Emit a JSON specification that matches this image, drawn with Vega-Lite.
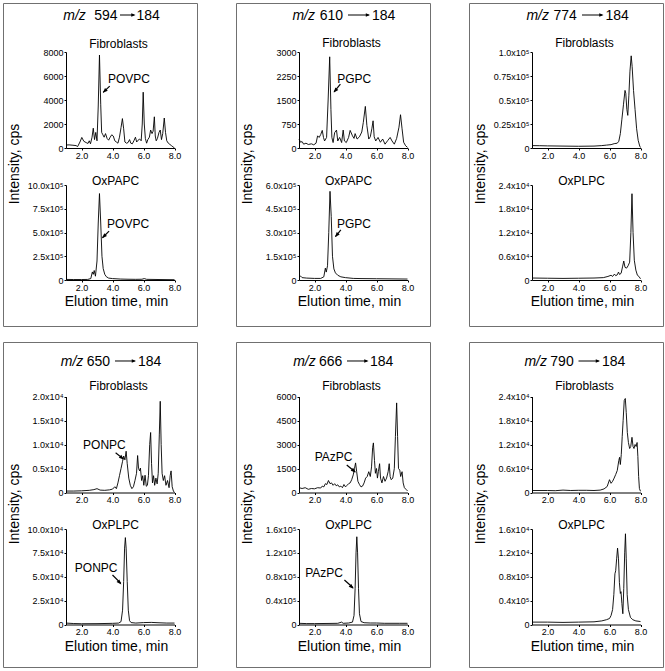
{
"$schema": "https://vega.github.io/schema/vega-lite/v6.json",
"padding": {"left": 2, "top": 2, "right": 0, "bottom": 0},
"config": {"font": "Liberation Sans", "view": {"stroke": "#707070", "strokeWidth": 1},
  "axis": {"domainColor": "black", "tickColor": "black", "labelColor": "black", "labelFontSize": 9, "tickSize": 2, "grid": false, "labelFont": "Liberation Sans", "labelPadding": 1, "domainWidth": 1, "tickWidth": 1}},
"datasets": {
"b1f": [{"t":1.0,"v":250},{"t":1.2,"v":260},{"t":1.45,"v":230},{"t":1.65,"v":200},{"t":1.75,"v":120},{"t":1.9,"v":500},{"t":2.02,"v":880},{"t":2.15,"v":560},{"t":2.3,"v":450},{"t":2.42,"v":380},{"t":2.5,"v":600},{"t":2.58,"v":350},{"t":2.68,"v":900},{"t":2.76,"v":1650},{"t":2.84,"v":700},{"t":2.92,"v":1300},{"t":3.0,"v":600},{"t":3.08,"v":3500},{"t":3.16,"v":7750},{"t":3.24,"v":3600},{"t":3.3,"v":1300},{"t":3.38,"v":1100},{"t":3.46,"v":900},{"t":3.55,"v":1200},{"t":3.65,"v":800},{"t":3.75,"v":650},{"t":3.85,"v":900},{"t":3.95,"v":1100},{"t":4.05,"v":1000},{"t":4.15,"v":600},{"t":4.25,"v":500},{"t":4.35,"v":400},{"t":4.45,"v":900},{"t":4.55,"v":1700},{"t":4.64,"v":2450},{"t":4.72,"v":1600},{"t":4.8,"v":500},{"t":4.9,"v":400},{"t":5.0,"v":450},{"t":5.1,"v":700},{"t":5.18,"v":400},{"t":5.28,"v":350},{"t":5.38,"v":600},{"t":5.48,"v":900},{"t":5.56,"v":500},{"t":5.65,"v":650},{"t":5.75,"v":750},{"t":5.85,"v":600},{"t":5.92,"v":2000},{"t":5.98,"v":4650},{"t":6.05,"v":2000},{"t":6.12,"v":800},{"t":6.2,"v":400},{"t":6.28,"v":700},{"t":6.38,"v":900},{"t":6.46,"v":1500},{"t":6.55,"v":1200},{"t":6.62,"v":1400},{"t":6.7,"v":2600},{"t":6.76,"v":1000},{"t":6.82,"v":600},{"t":6.9,"v":800},{"t":7.0,"v":1300},{"t":7.08,"v":1500},{"t":7.16,"v":700},{"t":7.24,"v":1200},{"t":7.34,"v":2500},{"t":7.42,"v":1300},{"t":7.5,"v":600},{"t":7.6,"v":400},{"t":7.7,"v":300},{"t":7.8,"v":200},{"t":7.9,"v":100},{"t":8.0,"v":0}],
"b1o": [{"t":1.0,"v":6000},{"t":1.5,"v":5000},{"t":2.0,"v":5000},{"t":2.4,"v":6000},{"t":2.6,"v":15000},{"t":2.7,"v":85000},{"t":2.76,"v":60000},{"t":2.82,"v":100000},{"t":2.9,"v":40000},{"t":3.0,"v":200000},{"t":3.08,"v":600000},{"t":3.16,"v":910000},{"t":3.24,"v":600000},{"t":3.32,"v":250000},{"t":3.4,"v":120000},{"t":3.5,"v":60000},{"t":3.6,"v":35000},{"t":3.75,"v":20000},{"t":4.0,"v":15000},{"t":4.5,"v":10000},{"t":5.0,"v":8000},{"t":5.5,"v":7000},{"t":5.9,"v":8000},{"t":6.05,"v":15000},{"t":6.2,"v":7000},{"t":7.0,"v":5000},{"t":8.0,"v":3000}],
"b2f": [{"t":1.0,"v":280},{"t":1.1,"v":180},{"t":1.2,"v":200},{"t":1.3,"v":120},{"t":1.45,"v":150},{"t":1.6,"v":110},{"t":1.8,"v":130},{"t":1.95,"v":100},{"t":2.1,"v":150},{"t":2.2,"v":380},{"t":2.3,"v":330},{"t":2.4,"v":420},{"t":2.5,"v":550},{"t":2.58,"v":330},{"t":2.65,"v":220},{"t":2.78,"v":330},{"t":2.88,"v":1500},{"t":2.98,"v":2850},{"t":3.06,"v":1200},{"t":3.12,"v":330},{"t":3.2,"v":170},{"t":3.3,"v":480},{"t":3.42,"v":560},{"t":3.5,"v":220},{"t":3.62,"v":330},{"t":3.75,"v":170},{"t":3.85,"v":560},{"t":3.93,"v":220},{"t":4.05,"v":170},{"t":4.2,"v":330},{"t":4.3,"v":550},{"t":4.45,"v":380},{"t":4.55,"v":300},{"t":4.62,"v":450},{"t":4.75,"v":280},{"t":4.9,"v":350},{"t":5.05,"v":500},{"t":5.15,"v":800},{"t":5.28,"v":1300},{"t":5.38,"v":700},{"t":5.5,"v":280},{"t":5.6,"v":350},{"t":5.7,"v":600},{"t":5.78,"v":850},{"t":5.85,"v":350},{"t":5.95,"v":220},{"t":6.1,"v":330},{"t":6.25,"v":180},{"t":6.4,"v":280},{"t":6.55,"v":120},{"t":6.72,"v":230},{"t":6.88,"v":330},{"t":7.0,"v":220},{"t":7.15,"v":120},{"t":7.3,"v":300},{"t":7.45,"v":650},{"t":7.55,"v":1040},{"t":7.65,"v":600},{"t":7.75,"v":180},{"t":7.88,"v":70},{"t":8.0,"v":20}],
"b2o": [{"t":1.0,"v":22000},{"t":1.1,"v":25000},{"t":1.2,"v":15000},{"t":1.5,"v":12000},{"t":2.0,"v":10000},{"t":2.4,"v":10000},{"t":2.6,"v":20000},{"t":2.7,"v":75000},{"t":2.76,"v":50000},{"t":2.84,"v":90000},{"t":2.92,"v":300000},{"t":3.0,"v":560000},{"t":3.08,"v":400000},{"t":3.16,"v":150000},{"t":3.25,"v":70000},{"t":3.35,"v":45000},{"t":3.5,"v":30000},{"t":3.7,"v":20000},{"t":4.0,"v":15000},{"t":4.5,"v":10000},{"t":5.0,"v":9000},{"t":6.0,"v":8000},{"t":7.0,"v":7000},{"t":8.0,"v":6000}],
"b3f": [{"t":1.0,"v":2500},{"t":1.5,"v":2400},{"t":2.0,"v":2200},{"t":3.0,"v":2000},{"t":4.0,"v":1800},{"t":5.0,"v":2000},{"t":5.5,"v":2500},{"t":5.8,"v":3000},{"t":6.1,"v":3500},{"t":6.3,"v":4500},{"t":6.5,"v":5000},{"t":6.6,"v":7000},{"t":6.7,"v":15000},{"t":6.8,"v":30000},{"t":6.9,"v":45000},{"t":7.0,"v":60000},{"t":7.05,"v":57000},{"t":7.12,"v":40000},{"t":7.18,"v":34000},{"t":7.25,"v":55000},{"t":7.32,"v":80000},{"t":7.4,"v":96000},{"t":7.46,"v":85000},{"t":7.55,"v":60000},{"t":7.65,"v":40000},{"t":7.75,"v":20000},{"t":7.85,"v":8000},{"t":7.95,"v":2000},{"t":8.0,"v":500}],
"b3o": [{"t":1.0,"v":500},{"t":2.0,"v":450},{"t":3.0,"v":400},{"t":4.0,"v":450},{"t":5.0,"v":500},{"t":5.6,"v":600},{"t":5.9,"v":900},{"t":6.1,"v":1200},{"t":6.2,"v":900},{"t":6.32,"v":1500},{"t":6.4,"v":1100},{"t":6.5,"v":1300},{"t":6.58,"v":2000},{"t":6.65,"v":1400},{"t":6.75,"v":1700},{"t":6.85,"v":3500},{"t":6.92,"v":4800},{"t":7.0,"v":3200},{"t":7.1,"v":3000},{"t":7.2,"v":3600},{"t":7.3,"v":4500},{"t":7.38,"v":12000},{"t":7.45,"v":21800},{"t":7.52,"v":12000},{"t":7.6,"v":5000},{"t":7.7,"v":2500},{"t":7.8,"v":1200},{"t":7.9,"v":900},{"t":8.0,"v":300}],
"b4f": [{"t":1.0,"v":300},{"t":1.5,"v":300},{"t":2.0,"v":350},{"t":2.5,"v":450},{"t":2.8,"v":600},{"t":3.0,"v":800},{"t":3.2,"v":500},{"t":3.5,"v":450},{"t":3.8,"v":550},{"t":4.0,"v":700},{"t":4.15,"v":1200},{"t":4.25,"v":800},{"t":4.35,"v":2000},{"t":4.45,"v":3500},{"t":4.55,"v":5000},{"t":4.65,"v":6500},{"t":4.72,"v":7600},{"t":4.8,"v":6800},{"t":4.88,"v":8600},{"t":4.95,"v":6000},{"t":5.05,"v":3000},{"t":5.15,"v":1500},{"t":5.25,"v":800},{"t":5.35,"v":1200},{"t":5.45,"v":2500},{"t":5.55,"v":4000},{"t":5.62,"v":7700},{"t":5.68,"v":5000},{"t":5.75,"v":4500},{"t":5.8,"v":5100},{"t":5.88,"v":2500},{"t":5.95,"v":3500},{"t":6.02,"v":1500},{"t":6.1,"v":3600},{"t":6.18,"v":1300},{"t":6.25,"v":1500},{"t":6.32,"v":3500},{"t":6.4,"v":10000},{"t":6.46,"v":12500},{"t":6.52,"v":6000},{"t":6.58,"v":2000},{"t":6.65,"v":3500},{"t":6.72,"v":1500},{"t":6.8,"v":3000},{"t":6.88,"v":1800},{"t":6.95,"v":4000},{"t":7.02,"v":12000},{"t":7.08,"v":19000},{"t":7.14,"v":10000},{"t":7.2,"v":4000},{"t":7.28,"v":2500},{"t":7.36,"v":3500},{"t":7.45,"v":1500},{"t":7.55,"v":2500},{"t":7.65,"v":1000},{"t":7.72,"v":3500},{"t":7.78,"v":4500},{"t":7.85,"v":1200},{"t":7.93,"v":300},{"t":8.0,"v":0}],
"b4o": [{"t":1.0,"v":1500},{"t":1.5,"v":1000},{"t":2.0,"v":800},{"t":3.0,"v":900},{"t":4.0,"v":1200},{"t":4.4,"v":1500},{"t":4.55,"v":3000},{"t":4.65,"v":15000},{"t":4.72,"v":45000},{"t":4.78,"v":80000},{"t":4.83,"v":91000},{"t":4.88,"v":80000},{"t":4.95,"v":45000},{"t":5.02,"v":15000},{"t":5.1,"v":4000},{"t":5.2,"v":2000},{"t":5.5,"v":1500},{"t":6.0,"v":2000},{"t":6.5,"v":2200},{"t":7.0,"v":1800},{"t":7.5,"v":1500},{"t":8.0,"v":1500}],
"b5f": [{"t":1.0,"v":300},{"t":1.2,"v":250},{"t":1.4,"v":300},{"t":1.6,"v":200},{"t":1.8,"v":250},{"t":2.0,"v":230},{"t":2.2,"v":300},{"t":2.4,"v":280},{"t":2.5,"v":400},{"t":2.6,"v":350},{"t":2.7,"v":550},{"t":2.8,"v":500},{"t":2.9,"v":750},{"t":3.0,"v":550},{"t":3.1,"v":600},{"t":3.2,"v":450},{"t":3.3,"v":550},{"t":3.4,"v":420},{"t":3.5,"v":480},{"t":3.6,"v":350},{"t":3.7,"v":400},{"t":3.8,"v":300},{"t":3.9,"v":500},{"t":4.0,"v":350},{"t":4.1,"v":450},{"t":4.2,"v":550},{"t":4.3,"v":600},{"t":4.4,"v":800},{"t":4.5,"v":1100},{"t":4.58,"v":1500},{"t":4.65,"v":1850},{"t":4.72,"v":1300},{"t":4.8,"v":700},{"t":4.9,"v":500},{"t":5.0,"v":350},{"t":5.1,"v":400},{"t":5.2,"v":600},{"t":5.3,"v":900},{"t":5.4,"v":1000},{"t":5.5,"v":1300},{"t":5.6,"v":1000},{"t":5.68,"v":1600},{"t":5.75,"v":2800},{"t":5.8,"v":3100},{"t":5.87,"v":2000},{"t":5.93,"v":1200},{"t":6.0,"v":1500},{"t":6.06,"v":900},{"t":6.12,"v":1300},{"t":6.2,"v":1800},{"t":6.26,"v":900},{"t":6.35,"v":600},{"t":6.45,"v":1000},{"t":6.55,"v":700},{"t":6.65,"v":900},{"t":6.75,"v":1300},{"t":6.82,"v":1800},{"t":6.88,"v":1000},{"t":6.95,"v":800},{"t":7.05,"v":900},{"t":7.15,"v":1500},{"t":7.22,"v":3500},{"t":7.3,"v":5600},{"t":7.36,"v":3500},{"t":7.42,"v":1500},{"t":7.5,"v":1400},{"t":7.56,"v":1000},{"t":7.65,"v":1300},{"t":7.72,"v":600},{"t":7.8,"v":300},{"t":7.9,"v":200},{"t":8.0,"v":100}],
"b5o": [{"t":1.0,"v":2000},{"t":1.5,"v":1500},{"t":2.0,"v":1500},{"t":3.0,"v":1800},{"t":3.5,"v":2000},{"t":3.75,"v":4000},{"t":3.85,"v":2000},{"t":4.2,"v":2500},{"t":4.45,"v":4000},{"t":4.55,"v":15000},{"t":4.62,"v":60000},{"t":4.68,"v":120000},{"t":4.73,"v":147000},{"t":4.78,"v":120000},{"t":4.84,"v":60000},{"t":4.9,"v":18000},{"t":5.0,"v":5000},{"t":5.2,"v":3000},{"t":5.6,"v":2500},{"t":6.0,"v":2500},{"t":6.5,"v":2000},{"t":7.0,"v":2000},{"t":7.5,"v":2000},{"t":8.0,"v":2000}],
"b6f": [{"t":1.0,"v":500},{"t":2.0,"v":500},{"t":2.5,"v":450},{"t":3.0,"v":600},{"t":3.5,"v":500},{"t":4.0,"v":550},{"t":4.5,"v":550},{"t":5.0,"v":500},{"t":5.4,"v":600},{"t":5.65,"v":900},{"t":5.85,"v":1500},{"t":6.0,"v":3200},{"t":6.1,"v":2300},{"t":6.2,"v":2800},{"t":6.3,"v":3600},{"t":6.4,"v":4500},{"t":6.5,"v":5500},{"t":6.6,"v":8000},{"t":6.65,"v":8800},{"t":6.7,"v":7000},{"t":6.76,"v":9500},{"t":6.82,"v":14000},{"t":6.88,"v":18000},{"t":6.95,"v":23000},{"t":7.02,"v":23500},{"t":7.08,"v":20000},{"t":7.15,"v":15000},{"t":7.22,"v":12500},{"t":7.3,"v":11000},{"t":7.37,"v":11500},{"t":7.45,"v":13800},{"t":7.52,"v":11500},{"t":7.58,"v":11000},{"t":7.65,"v":12000},{"t":7.72,"v":11500},{"t":7.78,"v":12500},{"t":7.83,"v":9000},{"t":7.88,"v":4000},{"t":7.93,"v":1000},{"t":8.0,"v":300}],
"b6o": [{"t":1.0,"v":400},{"t":2.0,"v":400},{"t":3.0,"v":350},{"t":4.0,"v":400},{"t":5.0,"v":450},{"t":5.5,"v":600},{"t":5.8,"v":800},{"t":6.0,"v":1000},{"t":6.1,"v":1500},{"t":6.2,"v":2500},{"t":6.28,"v":5000},{"t":6.35,"v":8500},{"t":6.4,"v":9000},{"t":6.46,"v":11000},{"t":6.52,"v":12800},{"t":6.58,"v":11000},{"t":6.64,"v":7000},{"t":6.7,"v":5200},{"t":6.74,"v":5500},{"t":6.8,"v":3500},{"t":6.86,"v":1800},{"t":6.92,"v":6000},{"t":6.98,"v":12000},{"t":7.03,"v":15200},{"t":7.08,"v":11000},{"t":7.14,"v":5000},{"t":7.22,"v":2500},{"t":7.35,"v":1200},{"t":7.5,"v":800},{"t":7.7,"v":600},{"t":8.0,"v":500}]
},
"spacing": 14,
"vconcat": [
{"spacing": 39, "bounds": "flush", "hconcat": [
 {"width": 194, "height": 323, "resolve": {"scale": {"x": "independent", "y": "independent"}},
  "layer": [
   {"data": {"name": "b1f"}, "layer": [
     {"mark": {"type": "line", "color": "black", "strokeWidth": 0.9},
      "encoding": {"x": {"field": "t", "type": "quantitative", "scale": {"domain": [1, 8], "range": [63, 171.5], "nice": false, "zero": false}, "axis": {"orient": "bottom", "offset": -178, "title": null, "values": [2,3,4,5,6,7,8], "labelExpr": "datum.value%2==0?format(datum.value,'.1f'):''", "labelOverlap": false, "labelFlush": false, "labelBound": false}},
                   "y": {"field": "v", "type": "quantitative", "scale": {"domain": [0, 8000], "range": [145, 49], "nice": false, "zero": false}, "axis": {"orient": "left", "offset": -63, "title": null, "values": [0,2000,4000,6000,8000], "format": "d", "labelOverlap": false, "labelBound": false, "labelFlush": false}}}},
     {"data": {"values": [{}]}, "mark": {"type": "text", "fontSize": 14, "fontStyle": "italic", "align": "right", "baseline": "alphabetic", "color": "black"}, "encoding": {"x": {"datum": 2.277, "type": "quantitative"}, "y": {"datum": 10667, "type": "quantitative"}, "text": {"value": "m/z"}}},
     {"data": {"values": [{}]}, "mark": {"type": "text", "fontSize": 14, "align": "left", "baseline": "alphabetic", "color": "black"}, "encoding": {"x": {"datum": 2.819, "type": "quantitative"}, "y": {"datum": 10667, "type": "quantitative"}, "text": {"value": "594"}}},
     {"data": {"values": [{}]}, "mark": {"type": "rule", "color": "black", "strokeWidth": 1}, "encoding": {"x": {"datum": 4.484, "type": "quantitative"}, "x2": {"datum": 5.4}, "y": {"datum": 11083, "type": "quantitative"}}},
     {"data": {"values": [{}]}, "mark": {"type": "point", "shape": "M0,0L-0.7,1.8L0.7,1.8Z", "filled": true, "color": "black", "opacity": 1, "size": 22, "angle": 90}, "encoding": {"x": {"datum": 5.484, "type": "quantitative"}, "y": {"datum": 11083, "type": "quantitative"}}},
     {"data": {"values": [{}]}, "mark": {"type": "text", "fontSize": 14, "align": "left", "baseline": "alphabetic", "color": "black"}, "encoding": {"x": {"datum": 5.548, "type": "quantitative"}, "y": {"datum": 10667, "type": "quantitative"}, "text": {"value": "184"}}},
     {"data": {"values": [{}]}, "mark": {"type": "text", "fontSize": 12, "align": "center", "baseline": "alphabetic", "color": "black"}, "encoding": {"x": {"datum": 4.387, "type": "quantitative"}, "y": {"datum": 8375, "type": "quantitative"}, "text": {"value": "Fibroblasts"}}},
     {"data": {"values": [{}]}, "mark": {"type": "text", "fontSize": 12, "align": "left", "baseline": "alphabetic", "color": "black"}, "encoding": {"x": {"datum": 3.71, "type": "quantitative"}, "y": {"datum": 5435, "type": "quantitative"}, "text": {"value": "POVPC"}}},
     {"data": {"values": [{}]}, "mark": {"type": "rule", "color": "black", "strokeWidth": 1.2}, "encoding": {"x": {"datum": 3.82, "type": "quantitative"}, "y": {"datum": 5156, "type": "quantitative"}, "x2": {"datum": 3.4}, "y2": {"datum": 4630}}},
     {"data": {"values": [{}]}, "mark": {"type": "point", "shape": "M0,0L-0.7,1.8L0.7,1.8Z", "filled": true, "color": "black", "opacity": 1, "size": 30, "angle": 225}, "encoding": {"x": {"datum": 3.38, "type": "quantitative"}, "y": {"datum": 4599, "type": "quantitative"}}}
   ]},
   {"data": {"name": "b1o"}, "layer": [
     {"mark": {"type": "line", "color": "black", "strokeWidth": 0.9},
      "encoding": {"x": {"field": "t", "type": "quantitative", "scale": {"domain": [1, 8], "range": [63, 171.5], "nice": false, "zero": false}, "axis": {"orient": "bottom", "offset": -46, "title": null, "values": [2,3,4,5,6,7,8], "labelExpr": "datum.value%2==0?format(datum.value,'.1f'):''", "labelOverlap": false, "labelFlush": false, "labelBound": false}},
                   "y": {"field": "v", "type": "quantitative", "scale": {"domain": [0, 1000000], "range": [277, 182], "nice": false, "zero": false}, "axis": {"orient": "left", "offset": -63, "title": null, "values": [0,250000,500000,750000,1000000], "labelExpr": "datum.value==0?'0':format(datum.value/1e5,'.1f')+'x10⁵'", "labelOverlap": false, "labelBound": false, "labelFlush": false}}}},
     {"data": {"values": [{}]}, "mark": {"type": "text", "fontSize": 12, "align": "center", "baseline": "alphabetic", "color": "black"}, "encoding": {"x": {"datum": 4.194, "type": "quantitative"}, "y": {"datum": 1005260, "type": "quantitative"}, "text": {"value": "OxPAPC"}}},
     {"data": {"values": [{}]}, "mark": {"type": "text", "fontSize": 12, "align": "left", "baseline": "alphabetic", "color": "black"}, "encoding": {"x": {"datum": 3.65, "type": "quantitative"}, "y": {"datum": 545000, "type": "quantitative"}, "text": {"value": "POVPC"}}},
     {"data": {"values": [{}]}, "mark": {"type": "rule", "color": "black", "strokeWidth": 1.2}, "encoding": {"x": {"datum": 3.78, "type": "quantitative"}, "y": {"datum": 515000, "type": "quantitative"}, "x2": {"datum": 3.35}, "y2": {"datum": 445000}}},
     {"data": {"values": [{}]}, "mark": {"type": "point", "shape": "M0,0L-0.7,1.8L0.7,1.8Z", "filled": true, "color": "black", "opacity": 1, "size": 30, "angle": 225}, "encoding": {"x": {"datum": 3.33, "type": "quantitative"}, "y": {"datum": 440000, "type": "quantitative"}}},
     {"data": {"values": [{}]}, "mark": {"type": "text", "fontSize": 14, "align": "center", "baseline": "middle", "angle": 270, "color": "black"}, "encoding": {"x": {"datum": -2.29, "type": "quantitative"}, "y": {"datum": 1221000, "type": "quantitative"}, "text": {"value": "Intensity, cps"}}},
     {"data": {"values": [{}]}, "mark": {"type": "text", "fontSize": 14, "align": "center", "baseline": "alphabetic", "color": "black"}, "encoding": {"x": {"datum": 4.258, "type": "quantitative"}, "y": {"datum": -273700, "type": "quantitative"}, "text": {"value": "Elution time, min"}}}
   ]}
  ]},
 {"width": 194, "height": 323, "resolve": {"scale": {"x": "independent", "y": "independent"}},
  "layer": [
   {"data": {"name": "b2f"}, "layer": [
     {"mark": {"type": "line", "color": "black", "strokeWidth": 0.9},
      "encoding": {"x": {"field": "t", "type": "quantitative", "scale": {"domain": [1, 8], "range": [63, 171.5], "nice": false, "zero": false}, "axis": {"orient": "bottom", "offset": -178, "title": null, "values": [2,3,4,5,6,7,8], "labelExpr": "datum.value%2==0?format(datum.value,'.1f'):''", "labelOverlap": false, "labelFlush": false, "labelBound": false}},
                   "y": {"field": "v", "type": "quantitative", "scale": {"domain": [0, 3000], "range": [145, 49], "nice": false, "zero": false}, "axis": {"orient": "left", "offset": -63, "title": null, "values": [0,750,1500,2250,3000], "format": "d", "labelOverlap": false, "labelBound": false, "labelFlush": false}}}},
     {"data": {"values": [{}]}, "mark": {"type": "text", "fontSize": 14, "fontStyle": "italic", "align": "right", "baseline": "alphabetic", "color": "black"}, "encoding": {"x": {"datum": 2.032, "type": "quantitative"}, "y": {"datum": 4000, "type": "quantitative"}, "text": {"value": "m/z"}}},
     {"data": {"values": [{}]}, "mark": {"type": "text", "fontSize": 14, "align": "left", "baseline": "alphabetic", "color": "black"}, "encoding": {"x": {"datum": 2.335, "type": "quantitative"}, "y": {"datum": 4000, "type": "quantitative"}, "text": {"value": "610"}}},
     {"data": {"values": [{}]}, "mark": {"type": "rule", "color": "black", "strokeWidth": 1}, "encoding": {"x": {"datum": 4.161, "type": "quantitative"}, "x2": {"datum": 5.5}, "y": {"datum": 4156, "type": "quantitative"}}},
     {"data": {"values": [{}]}, "mark": {"type": "point", "shape": "M0,0L-0.7,1.8L0.7,1.8Z", "filled": true, "color": "black", "opacity": 1, "size": 22, "angle": 90}, "encoding": {"x": {"datum": 5.581, "type": "quantitative"}, "y": {"datum": 4156, "type": "quantitative"}}},
     {"data": {"values": [{}]}, "mark": {"type": "text", "fontSize": 14, "align": "left", "baseline": "alphabetic", "color": "black"}, "encoding": {"x": {"datum": 5.71, "type": "quantitative"}, "y": {"datum": 4000, "type": "quantitative"}, "text": {"value": "184"}}},
     {"data": {"values": [{}]}, "mark": {"type": "text", "fontSize": 12, "align": "center", "baseline": "alphabetic", "color": "black"}, "encoding": {"x": {"datum": 4.387, "type": "quantitative"}, "y": {"datum": 3141, "type": "quantitative"}, "text": {"value": "Fibroblasts"}}},
     {"data": {"values": [{}]}, "mark": {"type": "text", "fontSize": 12, "align": "left", "baseline": "alphabetic", "color": "black"}, "encoding": {"x": {"datum": 3.46, "type": "quantitative"}, "y": {"datum": 2045, "type": "quantitative"}, "text": {"value": "PGPC"}}},
     {"data": {"values": [{}]}, "mark": {"type": "rule", "color": "black", "strokeWidth": 1.2}, "encoding": {"x": {"datum": 3.67, "type": "quantitative"}, "y": {"datum": 1993, "type": "quantitative"}, "x2": {"datum": 3.26}, "y2": {"datum": 1755}}},
     {"data": {"values": [{}]}, "mark": {"type": "point", "shape": "M0,0L-0.7,1.8L0.7,1.8Z", "filled": true, "color": "black", "opacity": 1, "size": 30, "angle": 219}, "encoding": {"x": {"datum": 3.24, "type": "quantitative"}, "y": {"datum": 1733, "type": "quantitative"}}}
   ]},
   {"data": {"name": "b2o"}, "layer": [
     {"mark": {"type": "line", "color": "black", "strokeWidth": 0.9},
      "encoding": {"x": {"field": "t", "type": "quantitative", "scale": {"domain": [1, 8], "range": [63, 171.5], "nice": false, "zero": false}, "axis": {"orient": "bottom", "offset": -46, "title": null, "values": [2,3,4,5,6,7,8], "labelExpr": "datum.value%2==0?format(datum.value,'.1f'):''", "labelOverlap": false, "labelFlush": false, "labelBound": false}},
                   "y": {"field": "v", "type": "quantitative", "scale": {"domain": [0, 600000], "range": [277, 182], "nice": false, "zero": false}, "axis": {"orient": "left", "offset": -63, "title": null, "values": [0,150000,300000,450000,600000], "labelExpr": "datum.value==0?'0':format(datum.value/1e5,'.1f')+'x10⁵'", "labelOverlap": false, "labelBound": false, "labelFlush": false}}}},
     {"data": {"values": [{}]}, "mark": {"type": "text", "fontSize": 12, "align": "center", "baseline": "alphabetic", "color": "black"}, "encoding": {"x": {"datum": 4.194, "type": "quantitative"}, "y": {"datum": 603156, "type": "quantitative"}, "text": {"value": "OxPAPC"}}},
     {"data": {"values": [{}]}, "mark": {"type": "text", "fontSize": 12, "align": "left", "baseline": "alphabetic", "color": "black"}, "encoding": {"x": {"datum": 3.45, "type": "quantitative"}, "y": {"datum": 331000, "type": "quantitative"}, "text": {"value": "PGPC"}}},
     {"data": {"values": [{}]}, "mark": {"type": "rule", "color": "black", "strokeWidth": 1.2}, "encoding": {"x": {"datum": 3.7, "type": "quantitative"}, "y": {"datum": 316500, "type": "quantitative"}, "x2": {"datum": 3.35}, "y2": {"datum": 274000}}},
     {"data": {"values": [{}]}, "mark": {"type": "point", "shape": "M0,0L-0.7,1.8L0.7,1.8Z", "filled": true, "color": "black", "opacity": 1, "size": 30, "angle": 219}, "encoding": {"x": {"datum": 3.33, "type": "quantitative"}, "y": {"datum": 271000, "type": "quantitative"}}},
     {"data": {"values": [{}]}, "mark": {"type": "text", "fontSize": 14, "align": "center", "baseline": "middle", "angle": 270, "color": "black"}, "encoding": {"x": {"datum": -2.29, "type": "quantitative"}, "y": {"datum": 732600, "type": "quantitative"}, "text": {"value": "Intensity, cps"}}},
     {"data": {"values": [{}]}, "mark": {"type": "text", "fontSize": 14, "align": "center", "baseline": "alphabetic", "color": "black"}, "encoding": {"x": {"datum": 4.258, "type": "quantitative"}, "y": {"datum": -164220, "type": "quantitative"}, "text": {"value": "Elution time, min"}}}
   ]}
  ]},
 {"width": 194, "height": 323, "resolve": {"scale": {"x": "independent", "y": "independent"}},
  "layer": [
   {"data": {"name": "b3f"}, "layer": [
     {"mark": {"type": "line", "color": "black", "strokeWidth": 0.9},
      "encoding": {"x": {"field": "t", "type": "quantitative", "scale": {"domain": [1, 8], "range": [63, 171.5], "nice": false, "zero": false}, "axis": {"orient": "bottom", "offset": -178, "title": null, "values": [2,3,4,5,6,7,8], "labelExpr": "datum.value%2==0?format(datum.value,'.1f'):''", "labelOverlap": false, "labelFlush": false, "labelBound": false}},
                   "y": {"field": "v", "type": "quantitative", "scale": {"domain": [0, 100000], "range": [145, 49], "nice": false, "zero": false}, "axis": {"orient": "left", "offset": -63, "title": null, "values": [0,25000,50000,75000,100000], "labelExpr": "datum.value==0?'0':datum.value==25000?'0.25x10⁵':datum.value==50000?'0.5x10⁵':datum.value==75000?'0.75x10⁵':'1.0x10⁵'", "labelOverlap": false, "labelBound": false, "labelFlush": false}}}},
     {"data": {"values": [{}]}, "mark": {"type": "text", "fontSize": 14, "fontStyle": "italic", "align": "right", "baseline": "alphabetic", "color": "black"}, "encoding": {"x": {"datum": 2.097, "type": "quantitative"}, "y": {"datum": 133333, "type": "quantitative"}, "text": {"value": "m/z"}}},
     {"data": {"values": [{}]}, "mark": {"type": "text", "fontSize": 14, "align": "left", "baseline": "alphabetic", "color": "black"}, "encoding": {"x": {"datum": 2.387, "type": "quantitative"}, "y": {"datum": 133333, "type": "quantitative"}, "text": {"value": "774"}}},
     {"data": {"values": [{}]}, "mark": {"type": "rule", "color": "black", "strokeWidth": 1}, "encoding": {"x": {"datum": 4.226, "type": "quantitative"}, "x2": {"datum": 5.53}, "y": {"datum": 138540, "type": "quantitative"}}},
     {"data": {"values": [{}]}, "mark": {"type": "point", "shape": "M0,0L-0.7,1.8L0.7,1.8Z", "filled": true, "color": "black", "opacity": 1, "size": 22, "angle": 90}, "encoding": {"x": {"datum": 5.613, "type": "quantitative"}, "y": {"datum": 138540, "type": "quantitative"}}},
     {"data": {"values": [{}]}, "mark": {"type": "text", "fontSize": 14, "align": "left", "baseline": "alphabetic", "color": "black"}, "encoding": {"x": {"datum": 5.742, "type": "quantitative"}, "y": {"datum": 133333, "type": "quantitative"}, "text": {"value": "184"}}},
     {"data": {"values": [{}]}, "mark": {"type": "text", "fontSize": 12, "align": "center", "baseline": "alphabetic", "color": "black"}, "encoding": {"x": {"datum": 4.387, "type": "quantitative"}, "y": {"datum": 104690, "type": "quantitative"}, "text": {"value": "Fibroblasts"}}}
   ]},
   {"data": {"name": "b3o"}, "layer": [
     {"mark": {"type": "line", "color": "black", "strokeWidth": 0.9},
      "encoding": {"x": {"field": "t", "type": "quantitative", "scale": {"domain": [1, 8], "range": [63, 171.5], "nice": false, "zero": false}, "axis": {"orient": "bottom", "offset": -46, "title": null, "values": [2,3,4,5,6,7,8], "labelExpr": "datum.value%2==0?format(datum.value,'.1f'):''", "labelOverlap": false, "labelFlush": false, "labelBound": false}},
                   "y": {"field": "v", "type": "quantitative", "scale": {"domain": [0, 24000], "range": [277, 182], "nice": false, "zero": false}, "axis": {"orient": "left", "offset": -63, "title": null, "values": [0,6000,12000,18000,24000], "labelExpr": "datum.value==0?'0':format(datum.value/1e4,'.1f')+'x10⁴'", "labelOverlap": false, "labelBound": false, "labelFlush": false}}}},
     {"data": {"values": [{}]}, "mark": {"type": "text", "fontSize": 12, "align": "center", "baseline": "alphabetic", "color": "black"}, "encoding": {"x": {"datum": 4.194, "type": "quantitative"}, "y": {"datum": 24126, "type": "quantitative"}, "text": {"value": "OxPLPC"}}},
     {"data": {"values": [{}]}, "mark": {"type": "text", "fontSize": 14, "align": "center", "baseline": "middle", "angle": 270, "color": "black"}, "encoding": {"x": {"datum": -2.29, "type": "quantitative"}, "y": {"datum": 29304, "type": "quantitative"}, "text": {"value": "Intensity, cps"}}},
     {"data": {"values": [{}]}, "mark": {"type": "text", "fontSize": 14, "align": "center", "baseline": "alphabetic", "color": "black"}, "encoding": {"x": {"datum": 4.258, "type": "quantitative"}, "y": {"datum": -6569, "type": "quantitative"}, "text": {"value": "Elution time, min"}}}
   ]}
  ]}
]},
{"spacing": 39, "bounds": "flush", "hconcat": [
 {"width": 194, "height": 325, "resolve": {"scale": {"x": "independent", "y": "independent"}},
  "layer": [
   {"data": {"name": "b4f"}, "layer": [
     {"mark": {"type": "line", "color": "black", "strokeWidth": 0.9},
      "encoding": {"x": {"field": "t", "type": "quantitative", "scale": {"domain": [1, 8], "range": [63, 171.5], "nice": false, "zero": false}, "axis": {"orient": "bottom", "offset": -174.5, "title": null, "values": [2,3,4,5,6,7,8], "labelExpr": "datum.value%2==0?format(datum.value,'.1f'):''", "labelOverlap": false, "labelFlush": false, "labelBound": false}},
                   "y": {"field": "v", "type": "quantitative", "scale": {"domain": [0, 20000], "range": [150.5, 54.5], "nice": false, "zero": false}, "axis": {"orient": "left", "offset": -63, "title": null, "values": [0,5000,10000,15000,20000], "labelExpr": "datum.value==0?'0':format(datum.value/1e4,'.1f')+'x10⁴'", "labelOverlap": false, "labelBound": false, "labelFlush": false}}}},
     {"data": {"values": [{}]}, "mark": {"type": "text", "fontSize": 14, "fontStyle": "italic", "align": "right", "baseline": "alphabetic", "color": "black"}, "encoding": {"x": {"datum": 2.116, "type": "quantitative"}, "y": {"datum": 26354, "type": "quantitative"}, "text": {"value": "m/z"}}},
     {"data": {"values": [{}]}, "mark": {"type": "text", "fontSize": 14, "align": "left", "baseline": "alphabetic", "color": "black"}, "encoding": {"x": {"datum": 2.335, "type": "quantitative"}, "y": {"datum": 26354, "type": "quantitative"}, "text": {"value": "650"}}},
     {"data": {"values": [{}]}, "mark": {"type": "rule", "color": "black", "strokeWidth": 1}, "encoding": {"x": {"datum": 4.161, "type": "quantitative"}, "x2": {"datum": 5.43}, "y": {"datum": 27396, "type": "quantitative"}}},
     {"data": {"values": [{}]}, "mark": {"type": "point", "shape": "M0,0L-0.7,1.8L0.7,1.8Z", "filled": true, "color": "black", "opacity": 1, "size": 22, "angle": 90}, "encoding": {"x": {"datum": 5.516, "type": "quantitative"}, "y": {"datum": 27396, "type": "quantitative"}}},
     {"data": {"values": [{}]}, "mark": {"type": "text", "fontSize": 14, "align": "left", "baseline": "alphabetic", "color": "black"}, "encoding": {"x": {"datum": 5.645, "type": "quantitative"}, "y": {"datum": 26354, "type": "quantitative"}, "text": {"value": "184"}}},
     {"data": {"values": [{}]}, "mark": {"type": "text", "fontSize": 12, "align": "center", "baseline": "alphabetic", "color": "black"}, "encoding": {"x": {"datum": 4.387, "type": "quantitative"}, "y": {"datum": 21354, "type": "quantitative"}, "text": {"value": "Fibroblasts"}}},
     {"data": {"values": [{}]}, "mark": {"type": "text", "fontSize": 12, "align": "left", "baseline": "alphabetic", "color": "black"}, "encoding": {"x": {"datum": 2.1, "type": "quantitative"}, "y": {"datum": 8970, "type": "quantitative"}, "text": {"value": "PONPC"}}},
     {"data": {"values": [{}]}, "mark": {"type": "rule", "color": "black", "strokeWidth": 1.2}, "encoding": {"x": {"datum": 4.2, "type": "quantitative"}, "y": {"datum": 8280, "type": "quantitative"}, "x2": {"datum": 4.7}, "y2": {"datum": 7000}}},
     {"data": {"values": [{}]}, "mark": {"type": "point", "shape": "M0,0L-0.7,1.8L0.7,1.8Z", "filled": true, "color": "black", "opacity": 1, "size": 30, "angle": 130}, "encoding": {"x": {"datum": 4.73, "type": "quantitative"}, "y": {"datum": 6900, "type": "quantitative"}}}
   ]},
   {"data": {"name": "b4o"}, "layer": [
     {"mark": {"type": "line", "color": "black", "strokeWidth": 0.9},
      "encoding": {"x": {"field": "t", "type": "quantitative", "scale": {"domain": [1, 8], "range": [63, 171.5], "nice": false, "zero": false}, "axis": {"orient": "bottom", "offset": -42.5, "title": null, "values": [2,3,4,5,6,7,8], "labelExpr": "datum.value%2==0?format(datum.value,'.1f'):''", "labelOverlap": false, "labelFlush": false, "labelBound": false}},
                   "y": {"field": "v", "type": "quantitative", "scale": {"domain": [0, 100000], "range": [282.5, 187], "nice": false, "zero": false}, "axis": {"orient": "left", "offset": -63, "title": null, "values": [0,25000,50000,75000,100000], "labelExpr": "datum.value==0?'0':format(datum.value/1e4,'.1f')+'x10⁴'", "labelOverlap": false, "labelBound": false, "labelFlush": false}}}},
     {"data": {"values": [{}]}, "mark": {"type": "text", "fontSize": 12, "align": "center", "baseline": "alphabetic", "color": "black"}, "encoding": {"x": {"datum": 4.194, "type": "quantitative"}, "y": {"datum": 100000, "type": "quantitative"}, "text": {"value": "OxPLPC"}}},
     {"data": {"values": [{}]}, "mark": {"type": "text", "fontSize": 12, "align": "left", "baseline": "alphabetic", "color": "black"}, "encoding": {"x": {"datum": 1.57, "type": "quantitative"}, "y": {"datum": 55300, "type": "quantitative"}, "text": {"value": "PONPC"}}},
     {"data": {"values": [{}]}, "mark": {"type": "rule", "color": "black", "strokeWidth": 1.2}, "encoding": {"x": {"datum": 4.0, "type": "quantitative"}, "y": {"datum": 51800, "type": "quantitative"}, "x2": {"datum": 4.54}, "y2": {"datum": 43000}}},
     {"data": {"values": [{}]}, "mark": {"type": "point", "shape": "M0,0L-0.7,1.8L0.7,1.8Z", "filled": true, "color": "black", "opacity": 1, "size": 30, "angle": 137}, "encoding": {"x": {"datum": 4.57, "type": "quantitative"}, "y": {"datum": 42000, "type": "quantitative"}}},
     {"data": {"values": [{}]}, "mark": {"type": "text", "fontSize": 14, "align": "center", "baseline": "middle", "angle": 270, "color": "black"}, "encoding": {"x": {"datum": -2.29, "type": "quantitative"}, "y": {"datum": 126200, "type": "quantitative"}, "text": {"value": "Intensity, cps"}}},
     {"data": {"values": [{}]}, "mark": {"type": "text", "fontSize": 14, "align": "center", "baseline": "alphabetic", "color": "black"}, "encoding": {"x": {"datum": 4.258, "type": "quantitative"}, "y": {"datum": -27430, "type": "quantitative"}, "text": {"value": "Elution time, min"}}}
   ]}
  ]},
 {"width": 194, "height": 325, "resolve": {"scale": {"x": "independent", "y": "independent"}},
  "layer": [
   {"data": {"name": "b5f"}, "layer": [
     {"mark": {"type": "line", "color": "black", "strokeWidth": 0.9},
      "encoding": {"x": {"field": "t", "type": "quantitative", "scale": {"domain": [1, 8], "range": [63, 171.5], "nice": false, "zero": false}, "axis": {"orient": "bottom", "offset": -174.5, "title": null, "values": [2,3,4,5,6,7,8], "labelExpr": "datum.value%2==0?format(datum.value,'.1f'):''", "labelOverlap": false, "labelFlush": false, "labelBound": false}},
                   "y": {"field": "v", "type": "quantitative", "scale": {"domain": [0, 6000], "range": [150.5, 54.5], "nice": false, "zero": false}, "axis": {"orient": "left", "offset": -63, "title": null, "values": [0,1500,3000,4500,6000], "format": "d", "labelOverlap": false, "labelBound": false, "labelFlush": false}}}},
     {"data": {"values": [{}]}, "mark": {"type": "text", "fontSize": 14, "fontStyle": "italic", "align": "right", "baseline": "alphabetic", "color": "black"}, "encoding": {"x": {"datum": 2.077, "type": "quantitative"}, "y": {"datum": 7906, "type": "quantitative"}, "text": {"value": "m/z"}}},
     {"data": {"values": [{}]}, "mark": {"type": "text", "fontSize": 14, "align": "left", "baseline": "alphabetic", "color": "black"}, "encoding": {"x": {"datum": 2.29, "type": "quantitative"}, "y": {"datum": 7906, "type": "quantitative"}, "text": {"value": "666"}}},
     {"data": {"values": [{}]}, "mark": {"type": "rule", "color": "black", "strokeWidth": 1}, "encoding": {"x": {"datum": 4.097, "type": "quantitative"}, "x2": {"datum": 5.4}, "y": {"datum": 8219, "type": "quantitative"}}},
     {"data": {"values": [{}]}, "mark": {"type": "point", "shape": "M0,0L-0.7,1.8L0.7,1.8Z", "filled": true, "color": "black", "opacity": 1, "size": 22, "angle": 90}, "encoding": {"x": {"datum": 5.484, "type": "quantitative"}, "y": {"datum": 8219, "type": "quantitative"}}},
     {"data": {"values": [{}]}, "mark": {"type": "text", "fontSize": 14, "align": "left", "baseline": "alphabetic", "color": "black"}, "encoding": {"x": {"datum": 5.581, "type": "quantitative"}, "y": {"datum": 7906, "type": "quantitative"}, "text": {"value": "184"}}},
     {"data": {"values": [{}]}, "mark": {"type": "text", "fontSize": 12, "align": "center", "baseline": "alphabetic", "color": "black"}, "encoding": {"x": {"datum": 4.387, "type": "quantitative"}, "y": {"datum": 6406, "type": "quantitative"}, "text": {"value": "Fibroblasts"}}},
     {"data": {"values": [{}]}, "mark": {"type": "text", "fontSize": 12, "align": "left", "baseline": "alphabetic", "color": "black"}, "encoding": {"x": {"datum": 2.01, "type": "quantitative"}, "y": {"datum": 1985, "type": "quantitative"}, "text": {"value": "PAzPC"}}},
     {"data": {"values": [{}]}, "mark": {"type": "rule", "color": "black", "strokeWidth": 1.2}, "encoding": {"x": {"datum": 4.08, "type": "quantitative"}, "y": {"datum": 1714, "type": "quantitative"}, "x2": {"datum": 4.63}, "y2": {"datum": 1280}}},
     {"data": {"values": [{}]}, "mark": {"type": "point", "shape": "M0,0L-0.7,1.8L0.7,1.8Z", "filled": true, "color": "black", "opacity": 1, "size": 30, "angle": 129}, "encoding": {"x": {"datum": 4.66, "type": "quantitative"}, "y": {"datum": 1254, "type": "quantitative"}}}
   ]},
   {"data": {"name": "b5o"}, "layer": [
     {"mark": {"type": "line", "color": "black", "strokeWidth": 0.9},
      "encoding": {"x": {"field": "t", "type": "quantitative", "scale": {"domain": [1, 8], "range": [63, 171.5], "nice": false, "zero": false}, "axis": {"orient": "bottom", "offset": -42.5, "title": null, "values": [2,3,4,5,6,7,8], "labelExpr": "datum.value%2==0?format(datum.value,'.1f'):''", "labelOverlap": false, "labelFlush": false, "labelBound": false}},
                   "y": {"field": "v", "type": "quantitative", "scale": {"domain": [0, 160000], "range": [282.5, 187], "nice": false, "zero": false}, "axis": {"orient": "left", "offset": -63, "title": null, "values": [0,40000,80000,120000,160000], "labelExpr": "datum.value==0?'0':format(datum.value/1e5,'.1f')+'x10⁵'", "labelOverlap": false, "labelBound": false, "labelFlush": false}}}},
     {"data": {"values": [{}]}, "mark": {"type": "text", "fontSize": 12, "align": "center", "baseline": "alphabetic", "color": "black"}, "encoding": {"x": {"datum": 4.194, "type": "quantitative"}, "y": {"datum": 160000, "type": "quantitative"}, "text": {"value": "OxPLPC"}}},
     {"data": {"values": [{}]}, "mark": {"type": "text", "fontSize": 12, "align": "left", "baseline": "alphabetic", "color": "black"}, "encoding": {"x": {"datum": 1.4, "type": "quantitative"}, "y": {"datum": 80200, "type": "quantitative"}, "text": {"value": "PAzPC"}}},
     {"data": {"values": [{}]}, "mark": {"type": "rule", "color": "black", "strokeWidth": 1.2}, "encoding": {"x": {"datum": 3.93, "type": "quantitative"}, "y": {"datum": 74600, "type": "quantitative"}, "x2": {"datum": 4.49}, "y2": {"datum": 61500}}},
     {"data": {"values": [{}]}, "mark": {"type": "point", "shape": "M0,0L-0.7,1.8L0.7,1.8Z", "filled": true, "color": "black", "opacity": 1, "size": 30, "angle": 134}, "encoding": {"x": {"datum": 4.52, "type": "quantitative"}, "y": {"datum": 60000, "type": "quantitative"}}},
     {"data": {"values": [{}]}, "mark": {"type": "text", "fontSize": 14, "align": "center", "baseline": "middle", "angle": 270, "color": "black"}, "encoding": {"x": {"datum": -2.29, "type": "quantitative"}, "y": {"datum": 201920, "type": "quantitative"}, "text": {"value": "Intensity, cps"}}},
     {"data": {"values": [{}]}, "mark": {"type": "text", "fontSize": 14, "align": "center", "baseline": "alphabetic", "color": "black"}, "encoding": {"x": {"datum": 4.258, "type": "quantitative"}, "y": {"datum": -43888, "type": "quantitative"}, "text": {"value": "Elution time, min"}}}
   ]}
  ]},
 {"width": 194, "height": 325, "resolve": {"scale": {"x": "independent", "y": "independent"}},
  "layer": [
   {"data": {"name": "b6f"}, "layer": [
     {"mark": {"type": "line", "color": "black", "strokeWidth": 0.9},
      "encoding": {"x": {"field": "t", "type": "quantitative", "scale": {"domain": [1, 8], "range": [63, 171.5], "nice": false, "zero": false}, "axis": {"orient": "bottom", "offset": -174.5, "title": null, "values": [2,3,4,5,6,7,8], "labelExpr": "datum.value%2==0?format(datum.value,'.1f'):''", "labelOverlap": false, "labelFlush": false, "labelBound": false}},
                   "y": {"field": "v", "type": "quantitative", "scale": {"domain": [0, 24000], "range": [150.5, 54.5], "nice": false, "zero": false}, "axis": {"orient": "left", "offset": -63, "title": null, "values": [0,6000,12000,18000,24000], "labelExpr": "datum.value==0?'0':format(datum.value/1e4,'.1f')+'x10⁴'", "labelOverlap": false, "labelBound": false, "labelFlush": false}}}},
     {"data": {"values": [{}]}, "mark": {"type": "text", "fontSize": 14, "fontStyle": "italic", "align": "right", "baseline": "alphabetic", "color": "black"}, "encoding": {"x": {"datum": 1.968, "type": "quantitative"}, "y": {"datum": 31625, "type": "quantitative"}, "text": {"value": "m/z"}}},
     {"data": {"values": [{}]}, "mark": {"type": "text", "fontSize": 14, "align": "left", "baseline": "alphabetic", "color": "black"}, "encoding": {"x": {"datum": 2.181, "type": "quantitative"}, "y": {"datum": 31625, "type": "quantitative"}, "text": {"value": "790"}}},
     {"data": {"values": [{}]}, "mark": {"type": "rule", "color": "black", "strokeWidth": 1}, "encoding": {"x": {"datum": 4.0, "type": "quantitative"}, "x2": {"datum": 5.3}, "y": {"datum": 32875, "type": "quantitative"}}},
     {"data": {"values": [{}]}, "mark": {"type": "point", "shape": "M0,0L-0.7,1.8L0.7,1.8Z", "filled": true, "color": "black", "opacity": 1, "size": 22, "angle": 90}, "encoding": {"x": {"datum": 5.387, "type": "quantitative"}, "y": {"datum": 32875, "type": "quantitative"}}},
     {"data": {"values": [{}]}, "mark": {"type": "text", "fontSize": 14, "align": "left", "baseline": "alphabetic", "color": "black"}, "encoding": {"x": {"datum": 5.516, "type": "quantitative"}, "y": {"datum": 31625, "type": "quantitative"}, "text": {"value": "184"}}},
     {"data": {"values": [{}]}, "mark": {"type": "text", "fontSize": 12, "align": "center", "baseline": "alphabetic", "color": "black"}, "encoding": {"x": {"datum": 4.387, "type": "quantitative"}, "y": {"datum": 25625, "type": "quantitative"}, "text": {"value": "Fibroblasts"}}}
   ]},
   {"data": {"name": "b6o"}, "layer": [
     {"mark": {"type": "line", "color": "black", "strokeWidth": 0.9},
      "encoding": {"x": {"field": "t", "type": "quantitative", "scale": {"domain": [1, 8], "range": [63, 171.5], "nice": false, "zero": false}, "axis": {"orient": "bottom", "offset": -42.5, "title": null, "values": [2,3,4,5,6,7,8], "labelExpr": "datum.value%2==0?format(datum.value,'.1f'):''", "labelOverlap": false, "labelFlush": false, "labelBound": false}},
                   "y": {"field": "v", "type": "quantitative", "scale": {"domain": [0, 16000], "range": [282.5, 187], "nice": false, "zero": false}, "axis": {"orient": "left", "offset": -63, "title": null, "values": [0,4000,8000,12000,16000], "labelExpr": "datum.value==0?'0':datum.value<10000?format(datum.value/1e4,'.1f')+'x10⁵':format(datum.value/1e4,'.1f')+'x10⁴'", "labelOverlap": false, "labelBound": false, "labelFlush": false}}}},
     {"data": {"values": [{}]}, "mark": {"type": "text", "fontSize": 12, "align": "center", "baseline": "alphabetic", "color": "black"}, "encoding": {"x": {"datum": 4.194, "type": "quantitative"}, "y": {"datum": 16000, "type": "quantitative"}, "text": {"value": "OxPLPC"}}},
     {"data": {"values": [{}]}, "mark": {"type": "text", "fontSize": 14, "align": "center", "baseline": "middle", "angle": 270, "color": "black"}, "encoding": {"x": {"datum": -2.29, "type": "quantitative"}, "y": {"datum": 20192, "type": "quantitative"}, "text": {"value": "Intensity, cps"}}},
     {"data": {"values": [{}]}, "mark": {"type": "text", "fontSize": 14, "align": "center", "baseline": "alphabetic", "color": "black"}, "encoding": {"x": {"datum": 4.258, "type": "quantitative"}, "y": {"datum": -4389, "type": "quantitative"}, "text": {"value": "Elution time, min"}}}
   ]}
  ]}
]}
]
}
